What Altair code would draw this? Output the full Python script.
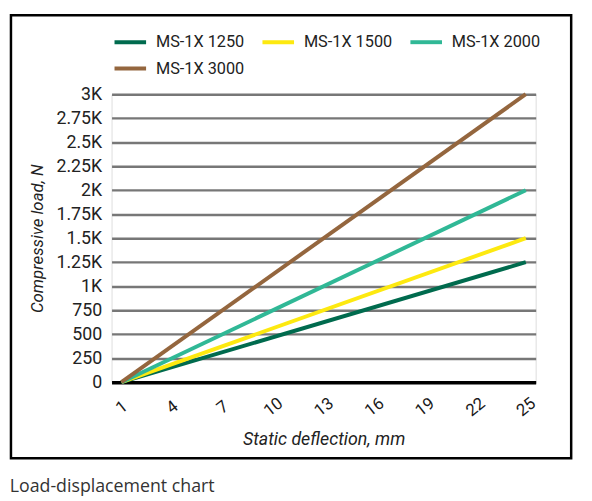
import altair as alt
import pandas as pd

# ---- data ----
deflection = [1, 25]
series_names = ["MS-1X 1250", "MS-1X 1500", "MS-1X 2000", "MS-1X 3000"]
load_1250 = [0, 1250]
load_1500 = [0, 1500]
load_2000 = [0, 2000]
load_3000 = [0, 3000]
series_colors = ["#006b4e", "#fde910", "#30b896", "#94663e"]
x_ticks = [1, 4, 7, 10, 13, 16, 19, 22, 25]
y_ticks = [0, 250, 500, 750, 1000, 1250, 1500, 1750, 2000, 2250, 2500, 2750, 3000]
caption = "Load-displacement chart"

rows = []
for name, vals in zip(series_names, [load_1250, load_1500, load_2000, load_3000]):
    for d, v in zip(deflection, vals):
        rows.append({"deflection": d, "load": v, "series": name})
df = pd.DataFrame(rows)

W, H = 430, 292

lines = alt.Chart(df).mark_line(strokeWidth=4, strokeCap="butt").encode(
    x=alt.X(
        "deflection:Q",
        scale=alt.Scale(domain=[1, 25], nice=False, zero=False, padding=10),
        axis=alt.Axis(
            values=x_ticks,
            title="Static deflection, mm",
            titleFont="Roboto",
            titleFontSize=18,
            titleFontStyle="italic",
            titleFontWeight="normal",
            titleColor="#222",
            titlePadding=12,
            labelFont="Roboto",
            labelFontSize=17,
            labelColor="#1a1a1a",
            labelAngle=-38,
            labelAlign="center",
            labelBaseline="middle",
            labelPadding=25,
            ticks=False,
            tickSize=0,
            grid=False,
            domainColor="#000",
            domainWidth=3.5,
        ),
    ),
    y=alt.Y(
        "load:Q",
        scale=alt.Scale(domain=[0, 3000], nice=False),
        axis=alt.Axis(
            values=y_ticks,
            title="Compressive load, N",
            titleFont="Roboto",
            titleFontSize=17,
            titleFontStyle="italic",
            titleFontWeight="normal",
            titleColor="#222",
            titlePadding=10,
            labelFont="Roboto",
            labelFontSize=18,
            labelColor="#222",
            labelPadding=10,
            labelExpr="datum.value >= 1000 ? format(datum.value / 1000, '~g') + 'K' : format(datum.value, 'd')",
            ticks=False,
            tickSize=0,
            domain=False,
            grid=True,
            gridColor="#777",
            gridWidth=2.5,
        ),
    ),
    color=alt.Color(
        "series:N",
        scale=alt.Scale(domain=series_names, range=series_colors),
        legend=alt.Legend(
            title=None,
            orient="none",
            legendX=1,
            legendY=-71,
            direction="horizontal",
            columns=3,
            gridAlign="all",
            symbolType="stroke",
            symbolSize=1024,
            symbolStrokeWidth=4,
            labelFont="Roboto",
            labelFontSize=16.5,
            labelColor="#222",
            labelOffset=8,
            columnPadding=10,
            rowPadding=-12,
            padding=0,
        ),
    ),
)

frame = alt.Chart(pd.DataFrame({"a": [0]})).mark_rect(
    fill="transparent", stroke="#000", strokeWidth=2.5
).encode(
    x=alt.value(-102), x2=alt.value(466), y=alt.value(-80), y2=alt.value(369)
)

chart = alt.layer(lines, frame).properties(
    width=W,
    height=H,
    title=alt.TitleParams(
        caption,
        orient="bottom",
        anchor="start",
        frame="bounds",
        font="Open Sans",
        fontSize=18,
        fontWeight="normal",
        color="#333",
        offset=19,
    ),
    autosize=alt.AutoSizeParams(type="none"),
    padding={"left": 105, "top": 84, "right": 49, "bottom": 117},
).configure_view(stroke=None).configure(background="white")

chart.save("out.html", embed_options={"renderer": "svg", "actions": False})
